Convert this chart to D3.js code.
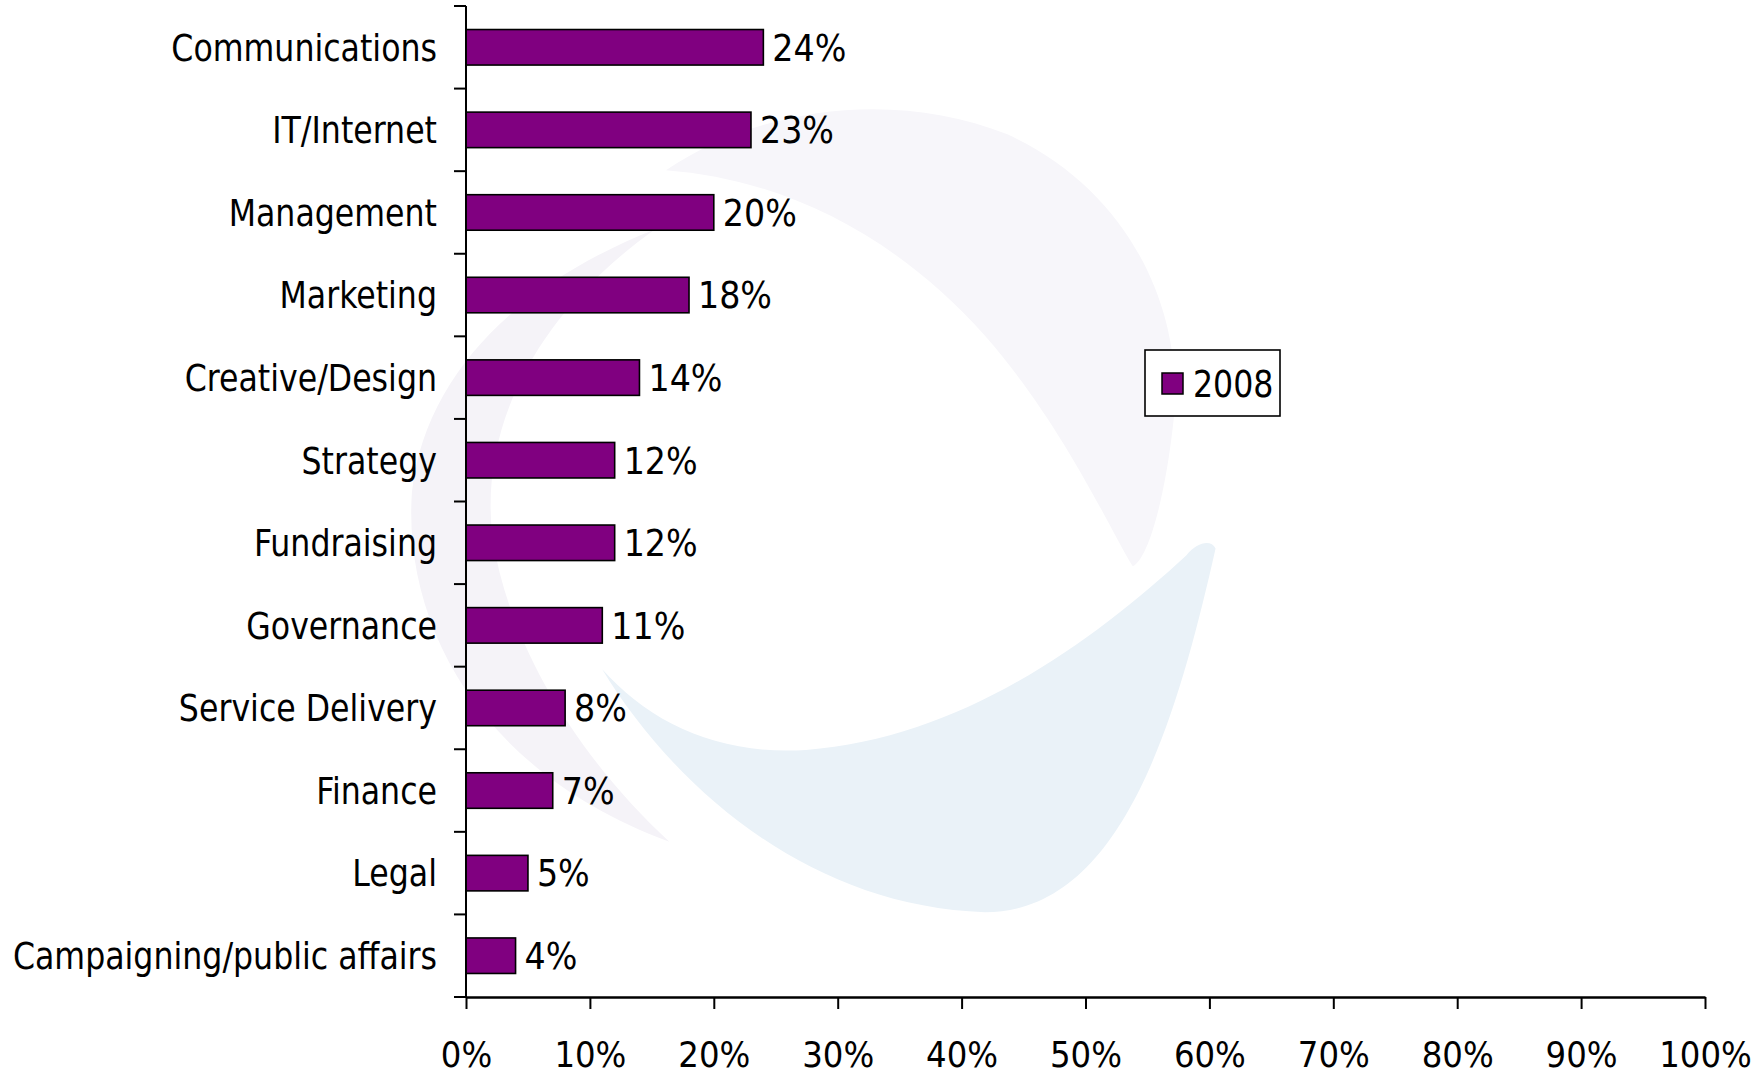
<!DOCTYPE html>
<html>
<head>
<meta charset="utf-8">
<script src="https://cdn.jsdelivr.net/npm/d3@7"></script>
<style>
  body { margin: 0; background: #fff; }
  svg text { font-family: "Liberation Sans Narrow", "DejaVu Sans Condensed", "Arial Narrow", sans-serif; fill: #000; }
</style>
</head>
<body>
<div class="chart"></div>
<script>
// data
const categories = ["Communications", "IT/Internet", "Management", "Marketing",
  "Creative/Design", "Strategy", "Fundraising", "Governance",
  "Service Delivery", "Finance", "Legal", "Campaigning/public affairs"];
const values2008 = [0.24, 0.23, 0.20, 0.18, 0.14, 0.12, 0.12, 0.11, 0.08, 0.07, 0.05, 0.04];
const seriesName = "2008";
const xTicks = [0, 0.1, 0.2, 0.3, 0.4, 0.5, 0.6, 0.7, 0.8, 0.9, 1.0];

const svgWidth = 1755;
const svgHeight = 1076;
const margin = { top: 6, right: 50, bottom: 79, left: 466 };
const width = 1705 - margin.left;
const height = svgHeight - margin.top - margin.bottom;
const squeeze = 0.95; // the original label font is a bit narrower than DejaVu Condensed

const svg = d3.select(".chart")
  .append("svg")
  .attr("width", svgWidth)
  .attr("height", svgHeight);

// faint watermark swooshes in the background
const wm = svg.append("g").attr("transform", "scale(1.1193)");
wm.append("path")
  .attr("fill", "#f7f6fa")
  .attr("d", "M595,152 C680,95 800,80 900,120 C1010,170 1060,280 1048,380 C1040,450 1025,500 1012,506 C990,470 950,380 880,300 C800,210 700,160 595,152 Z");
wm.append("path")
  .attr("fill", "#f5f3f8")
  .attr("d", "M585,205 C470,250 380,330 368,440 C360,560 430,690 598,752 C520,680 455,580 440,480 C428,380 480,280 585,205 Z");
wm.append("path")
  .attr("fill", "#eaf2f8")
  .attr("d", "M538,598 C600,700 720,810 880,815 C1000,815 1050,650 1086,490 C1082,482 1070,484 1060,496 C980,570 860,660 720,670 C640,675 580,645 538,598 Z");

const chartGroup = svg.append("g")
  .attr("transform", `translate(${margin.left}, ${margin.top})`);

// scales
const xScale = d3.scaleLinear()
  .domain([0, 1])
  .range([0, width]);

const yScale = d3.scaleBand()
  .domain(categories)
  .range([0, height])
  .paddingInner(0.57)
  .paddingOuter(0.285);

// bars
chartGroup.selectAll(".bar")
  .data(values2008)
  .enter()
  .append("rect")
  .attr("class", "bar")
  .attr("x", 0)
  .attr("y", (d, i) => yScale(categories[i]))
  .attr("width", d => xScale(d))
  .attr("height", yScale.bandwidth())
  .attr("fill", "#800080")
  .attr("stroke", "#000")
  .attr("stroke-width", 1.6);

// value labels
chartGroup.selectAll(".value")
  .data(values2008)
  .enter()
  .append("text")
  .attr("class", "value")
  .attr("x", d => xScale(d) + 9)
  .attr("y", (d, i) => yScale(categories[i]) + yScale.bandwidth() / 2)
  .attr("dy", "0.36em")
  .attr("font-size", 37)
  .text(d => d3.format(".0%")(d));

// category labels
chartGroup.selectAll(".cat")
  .data(categories)
  .enter()
  .append("text")
  .attr("class", "cat")
  .attr("transform", d => `translate(-29, ${yScale(d) + yScale.bandwidth() / 2}) scale(${squeeze}, 1)`)
  .attr("dy", "0.36em")
  .attr("text-anchor", "end")
  .attr("font-size", 37)
  .text(d => d);

// y axis with ticks at category boundaries
const boundaries = d3.range(categories.length + 1).map(i => i * height / categories.length);
chartGroup.append("line")
  .attr("x1", 0).attr("x2", 0)
  .attr("y1", 0).attr("y2", height)
  .attr("stroke", "#000").attr("stroke-width", 2);
chartGroup.selectAll(".ytick")
  .data(boundaries)
  .enter()
  .append("line")
  .attr("x1", -12).attr("x2", 0)
  .attr("y1", d => d).attr("y2", d => d)
  .attr("stroke", "#000").attr("stroke-width", 2);

// x axis
const xAxis = d3.axisBottom(xScale)
  .tickValues(xTicks)
  .tickFormat(d3.format(".0%"))
  .tickSize(12)
  .tickSizeOuter(0);

const xg = chartGroup.append("g")
  .attr("transform", `translate(0, ${height})`)
  .call(xAxis);
xg.select(".domain").attr("stroke", "#000").attr("stroke-width", 2.5);
xg.selectAll(".tick line").attr("stroke", "#000").attr("stroke-width", 2);
xg.selectAll(".tick text")
  .attr("font-size", 36)
  .attr("y", 44)
  .attr("dy", "0.71em")
  .style("font-family", "\"Liberation Sans Narrow\", \"DejaVu Sans Condensed\", sans-serif")
  .attr("fill", "#000");

// legend
const legend = svg.append("g")
  .attr("transform", "translate(1145, 350)");
legend.append("rect")
  .attr("width", 135).attr("height", 66)
  .attr("fill", "#fff")
  .attr("stroke", "#000").attr("stroke-width", 1.6);
legend.append("rect")
  .attr("x", 17).attr("y", 23)
  .attr("width", 21).attr("height", 21)
  .attr("fill", "#800080")
  .attr("stroke", "#000").attr("stroke-width", 1.5);
legend.append("text")
  .attr("transform", `translate(48, 34) scale(${squeeze}, 1)`)
  .attr("dy", "0.36em")
  .attr("font-size", 37)
  .text(seriesName);
</script>
</body>
</html>
